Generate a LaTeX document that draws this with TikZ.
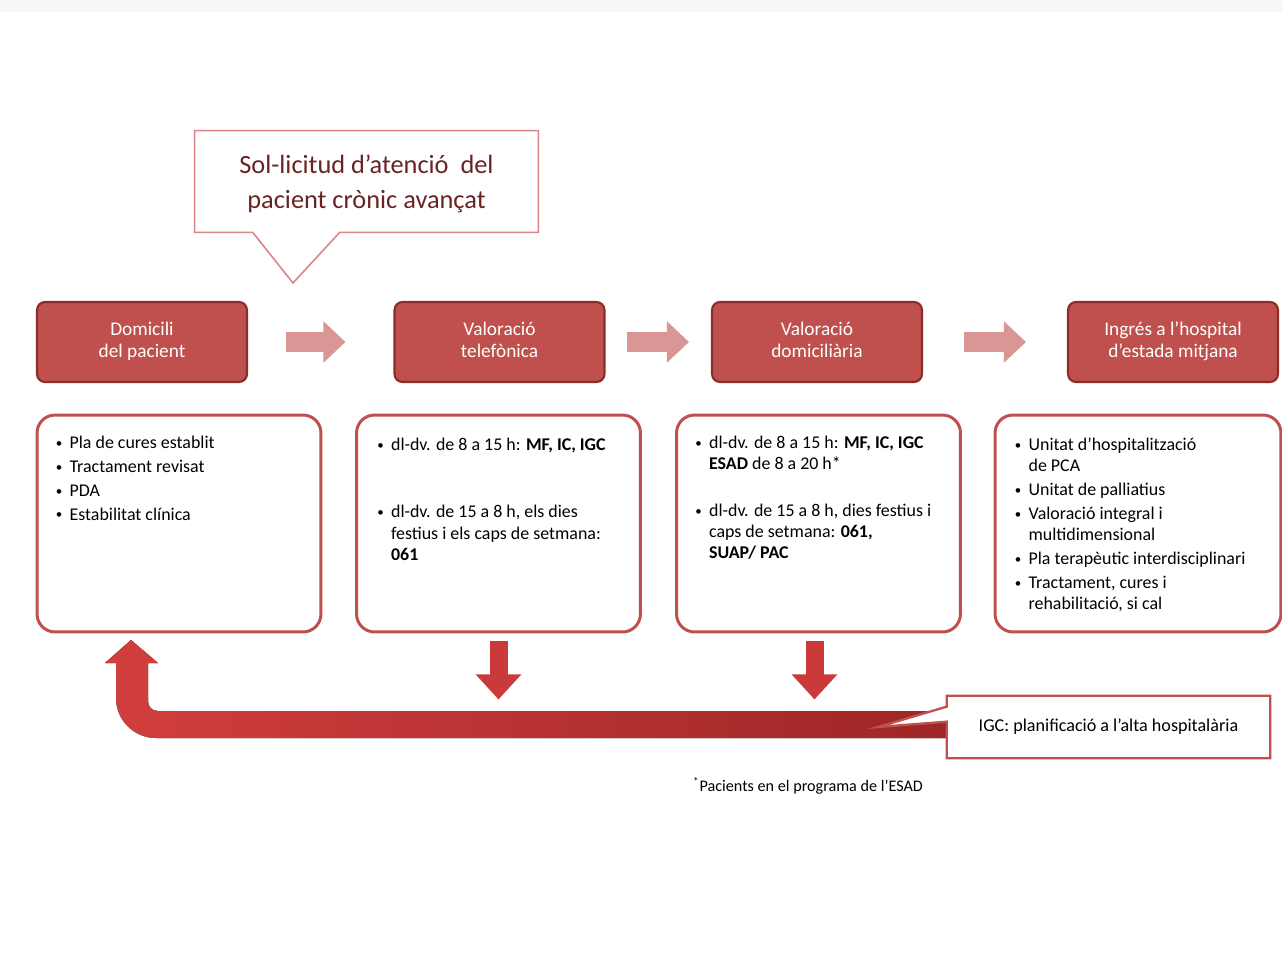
\documentclass[tikz,border=0pt]{standalone}
\usepackage{fontspec}
\setmainfont{Carlito}
\usepackage{tikz}
\usetikzlibrary{arrows.meta,shapes,positioning,calc}
\definecolor{pcred}{RGB}{192,80,77}
\definecolor{pcdarkred}{RGB}{140,45,42}
\definecolor{pcpink}{RGB}{217,150,148}
\definecolor{pclightred}{RGB}{217,134,138}
\definecolor{pcbrown}{RGB}{105,35,35}
\definecolor{pcarrowa}{RGB}{210,62,62}
\definecolor{pcarrowb}{RGB}{158,38,38}
\tikzstyle{stagebox} = [rectangle, rounded corners=0.16cm, minimum width=4.2cm, minimum height=1.6cm, text centered, align=center, text depth=2.6pt, draw=pcdarkred, fill=pcred, line width=1.2pt, text=white, font=\fontsize{11}{13}\selectfont]
\tikzstyle{infobox} = [rectangle, rounded corners=0.36cm, minimum width=5.68cm, minimum height=4.34cm, draw=pcred, fill=white, line width=1.7pt]
\tikzstyle{itemtext} = [anchor=north west, inner sep=0pt, align=left, font=\fontsize{10.2}{12}\selectfont]
\tikzstyle{flowarrow} = [pcpink, line width=0.4cm, -{Triangle[width=0.8cm,length=0.44cm]}]
\tikzstyle{downarrow} = [pcarrowa!85!pcarrowb, line width=0.36cm, -{Triangle[width=0.88cm,length=0.5cm]}]
\newcommand{\itm}{\makebox[7.8pt][l]{\raisebox{0.6pt}{\scalebox{0.72}{\textbullet}}}}
\newcommand{\cnt}{\hspace*{7.8pt}}

\begin{document}
\begin{tikzpicture}[x=0.02cm, y=-0.02cm]
\useasboundingbox[fill=white] (0,0) rectangle (1282,970);
\fill[gray!6] (0,0) rectangle (1282,12);

% Request callout
\node[minimum width=6.86cm, minimum height=2.02cm, text=pcbrown, align=center, font=\fontsize{15}{20}\selectfont] (req) at (366.5,184) {Sol-licitud d'atenció\ \ del\\pacient crònic avançat};
\coordinate (reqtip) at (293,283);
\draw[pclightred, line width=0.9pt] ($(req.north west)+(0,-2.5)$) -- ($(req.north east)+(0,-2.5)$) -- ($(req.south east)+(0,-2.5)$) -- ($(req.south west)+(145,-2.5)$) -- (reqtip) -- ($(req.south west)+(58,-2.5)$) -- ($(req.south west)+(0,-2.5)$) -- cycle;

% Stages
\node[stagebox] (dom) at (142,342) {Domicili\\del pacient};
\node[stagebox] (tel) at (499.5,342) {Valoració\\telefònica};
\node[stagebox] (vdom) at (817,342) {Valoració\\domiciliària};
\node[stagebox] (ing) at (1173,342) {Ingrés a l'hospital\\d'estada mitjana};

\draw[flowarrow] ($(dom.east)+(38,0)$) -- ($(tel.west)+(-48,0)$);
\draw[flowarrow] ($(tel.east)+(21,0)$) -- ($(vdom.west)+(-22,0)$);
\draw[flowarrow] ($(vdom.east)+(41,0)$) -- ($(ing.west)+(-41,0)$);

% Details
\node[infobox] (b1) at (179,523.5) {};
\node[infobox] (b2) at (498.5,523.5) {};
\node[infobox] (b3) at (818.5,523.5) {};
\node[infobox, minimum width=5.72cm] (b4) at (1138,523.5) {};

\node[itemtext] (b1txt) at ($(b1.north west)+(20,22)$) {\itm Pla de cures establit\\[1.6pt]
\itm Tractament revisat\\[1.6pt]
\itm PDA\\[1.6pt]
\itm Estabilitat clínica};
\node[itemtext] (b2txt) at ($(b2.north west)+(22,24)$) {\itm dl-dv. de 8 a 15 h: \textbf{MF, IC, IGC}\\[26.5pt]
\itm dl-dv. de 15 a 8 h, els dies\\
\cnt festius i els caps de setmana:\\
\cnt\textbf{061}};
\node[itemtext] (b3txt) at ($(b3.north west)+(20,22)$) {\itm dl-dv. de 8 a 15 h: \textbf{MF, IC, IGC}\\
\cnt\textbf{ESAD} de 8 a 20 h*\\[14.6pt]
\itm dl-dv. de 15 a 8 h, dies festius i\\
\cnt caps de setmana: \textbf{061,}\\
\cnt\textbf{SUAP/ PAC}};
\node[itemtext] (b4txt) at ($(b4.north west)+(21,24)$) {\itm Unitat d'hospitalització\\
\cnt de PCA\\[1.6pt]
\itm Unitat de palliatius\\[1.6pt]
\itm Valoració integral i\\
\cnt multidimensional\\[1.6pt]
\itm Pla terapèutic interdisciplinari\\[1.6pt]
\itm Tractament, cures i\\
\cnt rehabilitació, si cal};

% Return to home
\coordinate (hometip) at (131,640);
\fill[left color=pcarrowa, right color=pcarrowb] (955,711) -- (158,711) .. controls (152,711) and (148,707) .. (148,701) -- (148,663) -- (158,663) -- (hometip) -- (105,663) -- (116,663) -- (116,698) .. controls (116,720) and (134,738) .. (156,738) -- (955,738) -- cycle;

\draw[downarrow] ($(b2.south)+(0,8)$) -- ++(0,58);
\draw[downarrow] ($(b3.south)+(-4,8)$) -- ++(0,58);

% Discharge callout
\node[minimum width=6.46cm, minimum height=1.24cm] (igc) at (1108.5,727) {};
\coordinate (igctip) at (878,727);
\draw[pcred, line width=1.3pt, fill=white] (igc.north west) -- (igc.north east) -- (igc.south east) -- (igc.south west) -- ($(igc.north west)+(0,26)$) -- (igctip) -- ($(igc.north west)+(0,11)$) -- cycle;
\node[font=\fontsize{10.3}{12}\selectfont] at (igc.center) {IGC: planificació a l'alta hospitalària};

\node[font=\fontsize{9.2}{11}\selectfont] (note) at (808,786) {\textsuperscript{*}Pacients en el programa de l'ESAD};
\end{tikzpicture}
\end{document}
